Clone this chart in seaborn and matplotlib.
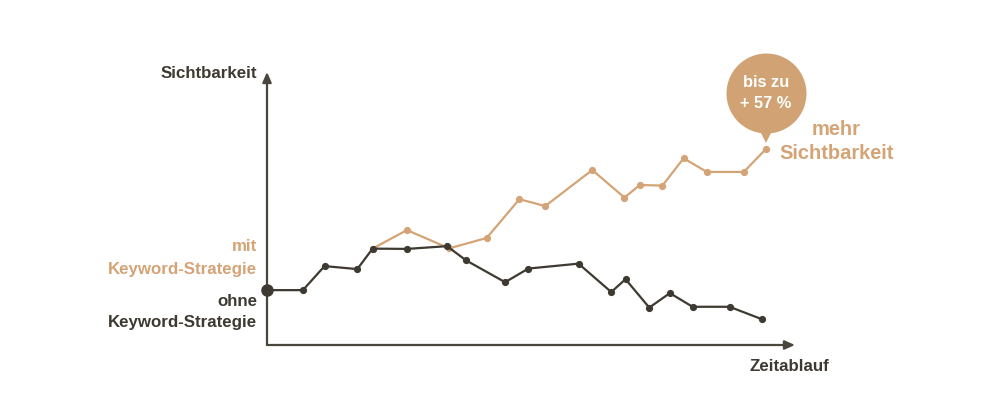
import matplotlib
matplotlib.use("Agg")
import matplotlib.pyplot as plt
import seaborn as sns
import pandas as pd
from matplotlib.transforms import offset_copy

# ---- data ----
ohne_x = [0, 6.8, 10.9, 17.1, 20.0, 26.5, 34.1, 37.7, 45.1, 49.5, 59.0, 65.2, 67.9, 72.4, 76.3, 80.6, 87.6, 93.8]
ohne_y = [20.1, 20.1, 28.9, 27.8, 35.3, 35.2, 36.2, 31.0, 23.0, 28.0, 29.8, 19.4, 24.1, 13.7, 19.0, 14.0, 14.0, 9.4]
mit_x = [20.0, 26.5, 34.5, 41.6, 47.8, 52.7, 61.6, 67.7, 70.6, 74.9, 78.9, 83.3, 90.3, 94.5]
mit_y = [35.3, 42.1, 35.4, 39.2, 53.4, 50.9, 64.1, 54.0, 58.6, 58.4, 68.4, 63.4, 63.4, 71.8]
series_names = ["ohne Keyword-Strategie", "mit Keyword-Strategie"]
bubble_text = "bis zu\n+ 57 %"
y_label = "Sichtbarkeit"
x_label = "Zeitablauf"

DARK = "#3e3a31"
ORANGE = "#d4a476"
BUBBLE = "#d1a374"
AXIS = "#4a463d"

sns.set_theme(style="white")
plt.rcParams["font.family"] = ["Liberation Sans", "DejaVu Sans"]

df = pd.concat([
    pd.DataFrame({"t": ohne_x, "v": ohne_y, "serie": series_names[0]}),
    pd.DataFrame({"t": mit_x, "v": mit_y, "serie": series_names[1]}),
])

fig = plt.figure(figsize=(10, 4.18), dpi=100)
ax = fig.add_axes([0.267, (418 - 345) / 418, 0.528, 273 / 418])
ax.set_xlim(0, 100)
ax.set_ylim(0, 100)

sns.lineplot(data=df, x="t", y="v", hue="serie", sort=False, estimator=None,
             palette={series_names[0]: DARK, series_names[1]: ORANGE},
             hue_order=[series_names[1], series_names[0]],
             marker="o", markersize=5.2, markeredgewidth=0, linewidth=1.6,
             legend=False, ax=ax, clip_on=False, zorder=3)

# big start dot
ax.plot(ohne_x[:1], ohne_y[:1], "o", color=DARK, markersize=8, clip_on=False, zorder=5)

for s in ax.spines.values():
    s.set_visible(False)
ax.set_xticks([])
ax.set_yticks([])
ax.set_xlabel("")
ax.set_ylabel("")
ax.patch.set_alpha(0)

# axes with arrows
ax.annotate("", xy=(0, 100), xytext=(0, 0), xycoords="data",
            arrowprops=dict(arrowstyle="-|>,head_length=0.5,head_width=0.22", color=AXIS, lw=1.6, shrinkA=0, shrinkB=0),
            annotation_clip=False)
ax.annotate("", xy=(100, 0), xytext=(0, 0), xycoords="data",
            arrowprops=dict(arrowstyle="-|>,head_length=0.5,head_width=0.22", color=AXIS, lw=1.6, shrinkA=0, shrinkB=0),
            annotation_clip=False)

fs = 12.2
ax.text(-1.9, 99.6, y_label, ha="right", va="center", fontsize=fs, fontweight="bold", color=DARK)
ax.text(98.9, -7.7, x_label, ha="center", va="center", fontsize=fs, fontweight="bold", color=DARK)

ax.text(-1.9, 35.9, "mit", ha="right", va="center", fontsize=fs, fontweight="bold", color=ORANGE)
ax.text(-1.9, 27.8, "Keyword-Strategie", ha="right", va="center", fontsize=fs, fontweight="bold", color=ORANGE)
ax.text(-1.9, 16.1, "ohne", ha="right", va="center", fontsize=fs, fontweight="bold", color=DARK)
ax.text(-1.9, 8.1, "Keyword-Strategie", ha="right", va="center", fontsize=fs, fontweight="bold", color=DARK)

# bubble anchored to last point of the "mit" series
lx, ly = mit_x[-1], mit_y[-1]
tr_c = offset_copy(ax.transData, fig=fig, x=0, y=56, units="dots")
tr_t = offset_copy(ax.transData, fig=fig, x=0, y=16, units="dots")
ax.plot([lx], [ly], marker="o", markersize=57.6, color=BUBBLE, markeredgewidth=0,
        transform=tr_c, clip_on=False, zorder=6)
ax.plot([lx], [ly], marker="v", markersize=14, color=BUBBLE, markeredgewidth=0,
        transform=tr_t, clip_on=False, zorder=6)
ax.text(lx, ly, bubble_text, transform=tr_c, ha="center", va="center", fontsize=11.8,
        fontweight="bold", color="white", linespacing=1.55, zorder=7)

ax.text(107.8, 78.8, "mehr", ha="center", va="center", fontsize=14.4, fontweight="bold", color=ORANGE)
ax.text(107.8, 70.3, "Sichtbarkeit", ha="center", va="center", fontsize=14.4, fontweight="bold", color=ORANGE)

fig.savefig("out.png", dpi=100)
